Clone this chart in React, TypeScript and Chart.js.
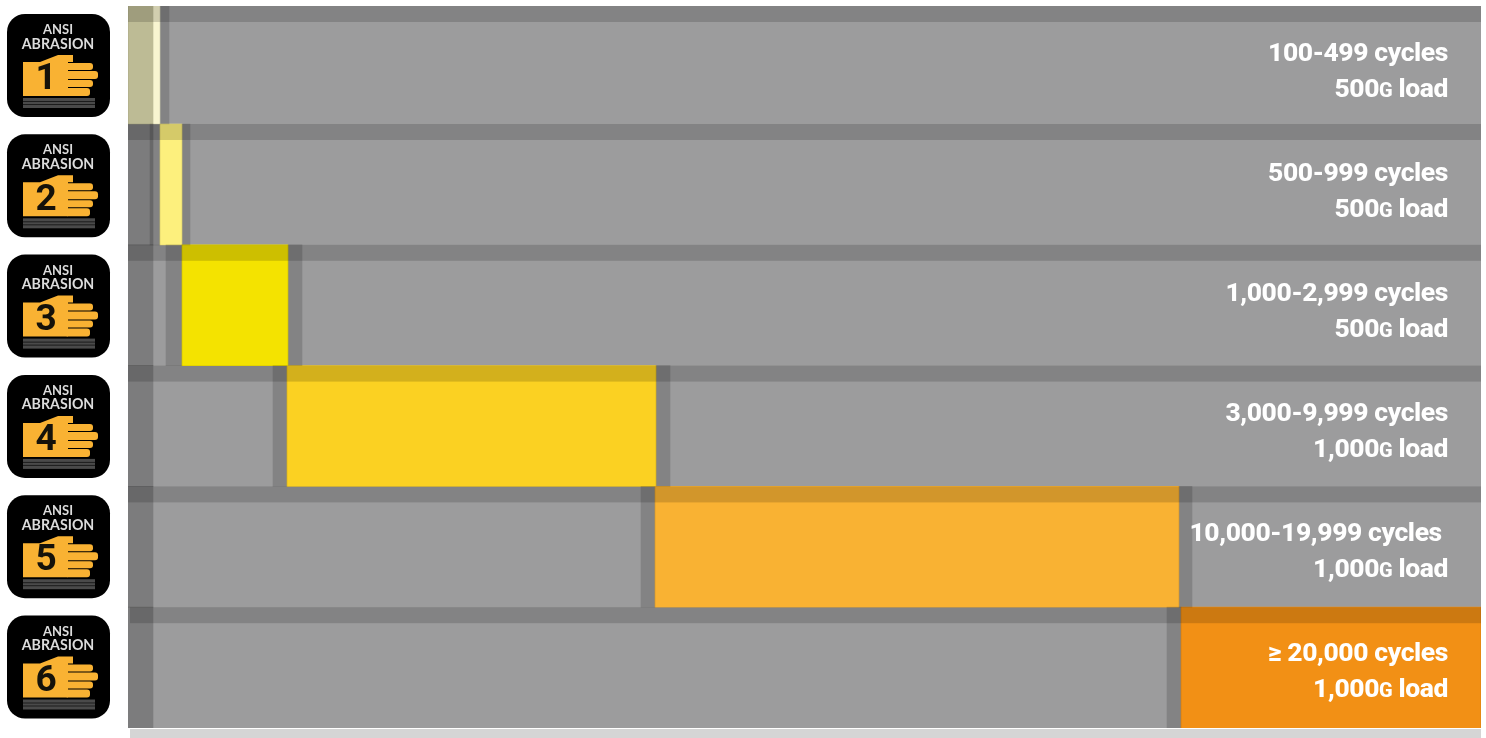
import React, { useEffect, useRef } from "react";
import { Chart, registerables } from "chart.js";

Chart.register(...registerables);

const grades = ["1", "2", "3", "4", "5", "6"];
const cycleLabels = [
  "100-499 cycles",
  "500-999 cycles",
  "1,000-2,999 cycles",
  "3,000-9,999 cycles",
  "10,000-19,999 cycles ",
  "≥ 20,000 cycles",
];
const loadLabels = ["500G load", "500G load", "500G load", "1,000G load", "1,000G load", "1,000G load"];
const rangeStart = [0, 32, 54, 159, 527, 1053];
const rangeEnd = [32, 54, 160, 528, 1051, 1353];
const rangeColors = ["#f8f5d0", "#fdf07d", "#f4e300", "#fbd122", "#f9b233", "#f29015"];
const leadWidth = [0, 10, 16, 14, 14, 14];
const trailWidth = [9, 8, 14, 14, 13, 0];
const axisMax = 1353;
const leftBandEnd = 25;

const BIG = "800 26.5px Roboto, sans-serif";
const SMALL = "800 20px Roboto, sans-serif";
const SPACING = "-0.4px";

const drawIcon = (ctx: CanvasRenderingContext2D, x: number, y: number, grade: string) => {
  ctx.save();
  ctx.translate(x, y);
  ctx.fillStyle = "#000";
  ctx.beginPath();
  ctx.roundRect(0, 0, 103, 103, 18);
  ctx.fill();
  ctx.textAlign = "center";
  ctx.textBaseline = "middle";
  ctx.fillStyle = "#dcdcdc";
  ctx.font = "700 13px Lato, 'Noto Sans', sans-serif";
  ctx.fillText("ANSI", 51, 16);
  ctx.font = "700 14.2px Lato, 'Noto Sans', sans-serif";
  ctx.fillText("ABRASION", 51, 30);
  ctx.fillStyle = "#f9b233";
  ctx.beginPath();
  ctx.moveTo(16, 48);
  ctx.lineTo(33, 48);
  ctx.lineTo(51, 41);
  ctx.lineTo(66, 41);
  ctx.lineTo(66, 48);
  ctx.lineTo(61, 48);
  ctx.lineTo(61, 82);
  ctx.lineTo(16, 82);
  ctx.closePath();
  ctx.fill();
  const fingers: [number, number, number][] = [
    [49, 7, 86],
    [57, 8, 91],
    [66, 7, 86],
    [74, 8, 83],
  ];
  fingers.forEach(([fy, fh, fx]) => {
    ctx.beginPath();
    ctx.roundRect(58, fy, fx - 58, fh, 3);
    ctx.fill();
  });
  ctx.fillStyle = "#15120a";
  ctx.font = "700 37px Roboto, sans-serif";
  ctx.fillText(grade, 39, 66);
  ctx.fillStyle = "#4a4a4a";
  ctx.fillRect(16, 84, 72, 10);
  ctx.fillStyle = "#1c1c1c";
  ctx.fillRect(16, 87, 72, 1);
  ctx.fillRect(16, 90, 72, 1);
  ctx.restore();
};

const drawLoad = (ctx: CanvasRenderingContext2D, text: string, right: number, y: number) => {
  const [head, tail] = text.split("G");
  ctx.textAlign = "left";
  ctx.font = BIG;
  const tailW = ctx.measureText(tail).width;
  const headW = ctx.measureText(head).width;
  ctx.font = SMALL;
  const gW = ctx.measureText("G").width;
  let x = right - tailW - gW - headW;
  ctx.font = BIG;
  ctx.fillText(head, x, y);
  x += headW;
  ctx.font = SMALL;
  ctx.fillText("G", x, y);
  x += gW;
  ctx.font = BIG;
  ctx.fillText(tail, x, y);
};

const overlayPlugin = {
  id: "overlay",
  beforeDraw(chart: any) {
    const { ctx, scales } = chart;
    ctx.save();
    ctx.fillStyle = "#d5d5d5";
    const x0 = scales.x.getPixelForValue(2);
    ctx.fillRect(x0, 729, scales.x.getPixelForValue(axisMax) - x0, 9);
    ctx.restore();
  },
  afterDatasetsDraw(chart: any) {
    const { ctx, scales } = chart;
    const { x, y } = scales;
    ctx.save();
    ctx.fillStyle = "rgba(0,0,0,0.155)";
    grades.forEach((_, i) => {
      const top = Math.max(6, y.getPixelForValue(i) - 60.4);
      const left = x.getPixelForValue(i === 5 ? 2 : 0);
      ctx.fillRect(left, top, x.getPixelForValue(axisMax) - left, 16);
    });
    ctx.restore();
  },
  afterDraw(chart: any) {
    const { ctx, scales } = chart;
    const right = scales.x.getPixelForValue(axisMax) - 33;
    ctx.save();
    grades.forEach((grade, i) => {
      drawIcon(ctx, 7, 14 + i * 120.3, grade);
      ctx.fillStyle = "#fff";
      ctx.textBaseline = "alphabetic";
      ctx.textAlign = "right";
      (ctx as any).letterSpacing = SPACING;
      ctx.font = BIG;
      ctx.fillText(cycleLabels[i], right, 60.5 + i * 120);
      drawLoad(ctx, loadLabels[i], right, 96.5 + i * 120);
      (ctx as any).letterSpacing = "0px";
    });
    ctx.restore();
  },
};

export default function App() {
  const ref = useRef<HTMLCanvasElement>(null);
  useEffect(() => {
    if (!ref.current) return;
    const clip = { left: 0, right: 0, top: -2.8, bottom: 0 };
    const common = { grouped: false, barPercentage: 1, categoryPercentage: 1, borderWidth: 0, clip };
    const chart = new Chart(ref.current, {
      type: "bar",
      data: {
        labels: grades,
        datasets: [
          {
            ...common,
            label: "left band",
            data: grades.map(() => [0, leftBandEnd]),
            backgroundColor: grades.map((_, i) => (i === 0 ? "rgba(70,70,30,0.33)" : "rgba(0,0,0,0.2)")),
          },
          {
            ...common,
            label: "lead shadow",
            data: rangeStart.map((s, i) => [s - leadWidth[i], s]),
            backgroundColor: "rgba(0,0,0,0.155)",
          },
          {
            ...common,
            label: "trail shadow",
            data: rangeEnd.map((e, i) => [e, e + trailWidth[i]]),
            backgroundColor: "rgba(0,0,0,0.155)",
          },
          {
            ...common,
            label: "range",
            data: rangeStart.map((s, i) => [s, rangeEnd[i]]),
            backgroundColor: rangeColors,
          },
          {
            ...common,
            label: "track",
            data: grades.map(() => [0, axisMax]),
            backgroundColor: "#9c9c9d",
          },
        ],
      } as any,
      options: {
        indexAxis: "y",
        responsive: false,
        animation: false,
        layout: { padding: { left: 128, right: 5, top: 3.2, bottom: 10 } },
        plugins: { legend: { display: false }, tooltip: { enabled: false } },
        scales: {
          x: { type: "linear", min: 0, max: axisMax, display: false },
          y: { type: "category", display: false, offset: true },
        },
      } as any,
      plugins: [overlayPlugin],
    });
    return () => chart.destroy();
  }, []);
  return (
    <div style={{ position: "fixed", inset: 0, background: "#fff", overflow: "hidden" }}>
      <canvas ref={ref} width={1486} height={738} style={{ display: "block" }} />
    </div>
  );
}
